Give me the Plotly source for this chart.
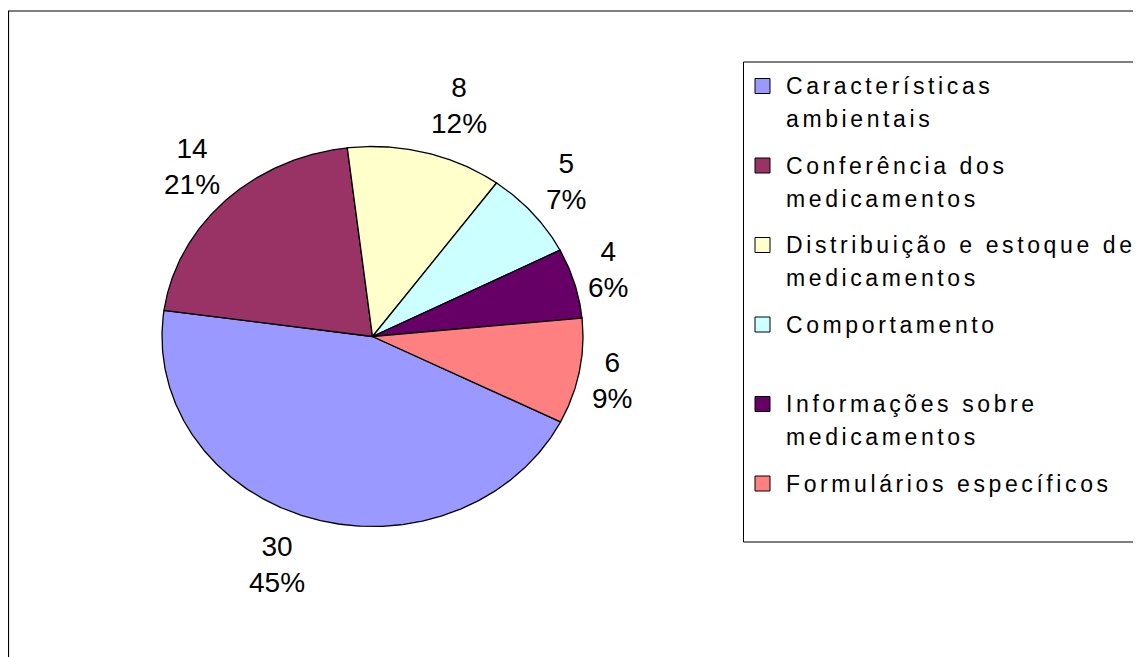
import numpy as np
import plotly.graph_objects as go

# ---------------- data ----------------
categories = [
    "Características ambientais",
    "Conferência dos medicamentos",
    "Distribuição e estoque de medicamentos",
    "Comportamento",
    "Informações sobre medicamentos",
    "Formulários específicos",
]
legend_lines = [
    ["Características", "ambientais"],
    ["Conferência dos", "medicamentos"],
    ["Distribuição e estoque de", "medicamentos"],
    ["Comportamento"],
    ["Informações sobre", "medicamentos"],
    ["Formulários específicos"],
]
values = [30, 14, 8, 5, 4, 6]
colors = ["#9999FF", "#993366", "#FFFFCC", "#CCFFFF", "#660066", "#FF8080"]

# ---------------- layout parameters ----------------
W, H = 1141, 657
OFF = 8  # page body margin: screen px -> figure px
CX, CY, RX, RY = 372.5 - OFF, 336.5 - OFF, 210.5, 190.0   # elliptical pie (px)
START = 116.7                                  # first slice angle, clockwise from 12 o'clock
LABEL_PAD_X = 33
LABEL_RY_FACTOR = 1.255
FONT = "Liberation Sans, Arial, sans-serif"
LETTER_SPACING = 3.6

fig = go.Figure()
total = float(sum(values))
angle = START
label_annots = []
for cat, v, c in zip(categories, values, colors):
    span = 360.0 * v / total
    n = max(int(span * 2), 2) + 1
    t = np.radians(np.linspace(angle, angle + span, n))
    xs = np.concatenate([[CX], CX + RX * np.sin(t), [CX]])
    ys = np.concatenate([[CY], CY - RY * np.cos(t), [CY]])
    pct = round(100 * v / total)
    fig.add_trace(go.Scatter(
        x=xs, y=ys, mode="lines", fill="toself", fillcolor=c,
        line=dict(color="black", width=1.3), name=cat, showlegend=False,
        hoveron="fills", hoverinfo="text", text=f"{cat}: {v} ({pct}%)",
    ))
    mid = np.radians(angle + span / 2)
    lx = CX + RX * np.sin(mid) + LABEL_PAD_X * np.sign(np.sin(mid))
    ly = CY - LABEL_RY_FACTOR * RY * np.cos(mid)
    label_annots.append(dict(
        x=lx, y=ly, xref="x", yref="y", text=f"{v}<br>{pct}%", showarrow=False,
        xanchor="center", yanchor="middle", align="center",
        font=dict(size=28, family=FONT, color="black"),
    ))
    angle += span

shapes = [
    # outer chart border
    dict(type="rect", xref="x", yref="y", x0=0.5, y0=11 - OFF, x1=W + 20, y1=H + 20,
         line=dict(color="black", width=1.2), fillcolor="rgba(0,0,0,0)"),
    # legend box
    dict(type="rect", xref="x", yref="y", x0=743.5 - OFF, y0=62 - OFF, x1=W + 20, y1=542 - OFF,
         line=dict(color="black", width=1), fillcolor="rgba(0,0,0,0)"),
]
legend_annots = []
LEG_Y0, LEG_STEP, LEG_LINE = 86 - OFF, 79.5, 33
for i, (lines, c) in enumerate(zip(legend_lines, colors)):
    yc = LEG_Y0 + i * LEG_STEP
    shapes.append(dict(type="rect", xref="x", yref="y", x0=755 - OFF, x1=770 - OFF,
                       y0=yc - 7.5, y1=yc + 7.5, fillcolor=c,
                       line=dict(color="black", width=1)))
    for j, ln in enumerate(lines):
        legend_annots.append(dict(
            x=784 - OFF, y=yc + j * LEG_LINE, xref="x", yref="y", text=ln,
            showarrow=False, xanchor="left", yanchor="middle",
            font=dict(size=23, family=FONT, color="black"),
        ))

fig.update_layout(
    width=W, height=H, autosize=False,
    margin=dict(l=0, r=0, t=0, b=0, pad=0),
    paper_bgcolor="white", plot_bgcolor="white",
    xaxis=dict(range=[0, W], visible=False, fixedrange=True),
    yaxis=dict(range=[H, 0], visible=False, fixedrange=True),
    shapes=shapes,
    annotations=label_annots + legend_annots,
    showlegend=False,
)

n_labels = len(label_annots)
post = """
(function(){
  var gd = document.getElementById('{plot_id}');
  function ls(){
    if (!gd) { return; }
    var gs = gd.querySelectorAll('g.annotation');
    gs.forEach(function(g){
      var i = +g.getAttribute('data-index');
      if (i >= NLAB) {
        var t = g.querySelector('text');
        if (t && !t.getAttribute('data-ls')) {
          var b0 = t.getBBox();
          t.style.letterSpacing = 'LSPpx';
          var b1 = t.getBBox();
          var x = parseFloat(t.getAttribute('x')) || 0;
          t.setAttribute('x', x + (b0.x - b1.x));
          t.setAttribute('data-ls', '1');
        }
      }
    });
  }
  ls(); setTimeout(ls, 50); setTimeout(ls, 300);
  if (gd && gd.on) { gd.on('plotly_afterplot', ls); }
})();
""".replace("NLAB", str(n_labels)).replace("LSP", str(LETTER_SPACING))

fig.write_html("out.html", post_script=post, config={"displayModeBar": False})
